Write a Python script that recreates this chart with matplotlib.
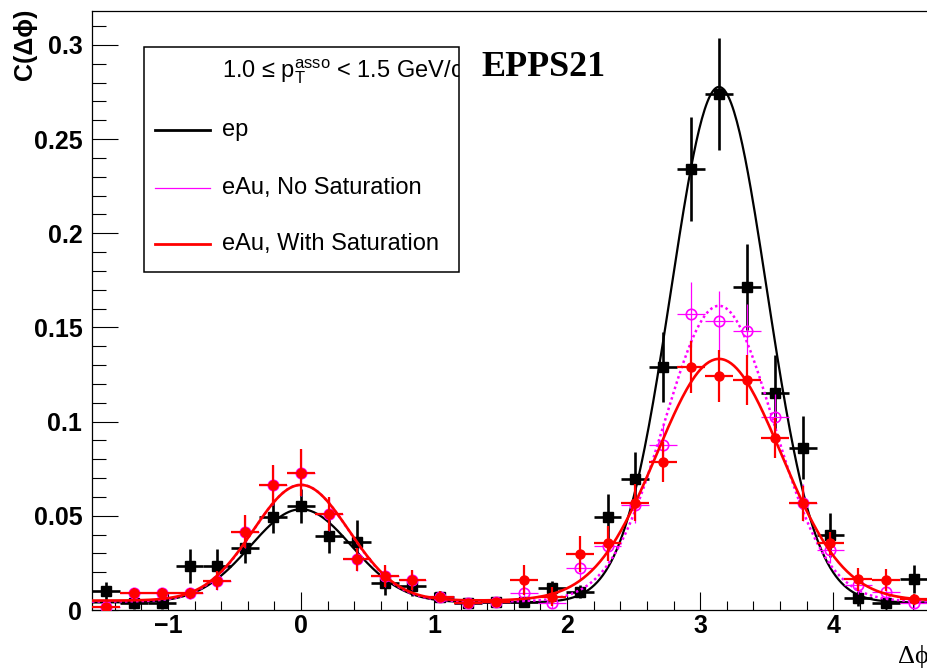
import numpy as np
import matplotlib
matplotlib.use("Agg")
import matplotlib.pyplot as plt
from matplotlib.patches import Rectangle
from matplotlib.lines import Line2D
from matplotlib.ticker import MultipleLocator

plt.rcParams["font.family"] = ["Liberation Sans", "DejaVu Sans"]
plt.rcParams["mathtext.fontset"] = "custom"
plt.rcParams["mathtext.rm"] = "Liberation Sans"
plt.rcParams["mathtext.it"] = "Liberation Sans:italic"

# bin centres (30 bins over -pi/2 .. 3pi/2)
dphi = [-1.4661, -1.2566, -1.0472, -0.8378, -0.6283, -0.4189, -0.2094, 0.0,
        0.2094, 0.4189, 0.6283, 0.8378, 1.0472, 1.2566, 1.4661, 1.6755,
        1.8850, 2.0944, 2.3038, 2.5133, 2.7227, 2.9322, 3.1416, 3.3510,
        3.5605, 3.7699, 3.9794, 4.1888, 4.3982, 4.6077]
bin_half = 0.1047

# ep
ep_val = [0.0100, 0.0035, 0.0035, 0.0234, 0.0234, 0.0327, 0.0492, 0.0552,
          0.0393, 0.0363, 0.0142, 0.0125, 0.0071, 0.0035, 0.0040, 0.0040,
          0.0115, 0.0097, 0.0492, 0.0694, 0.1289, 0.2340, 0.2740, 0.1714,
          0.1154, 0.0862, 0.0398, 0.0062, 0.0035, 0.0163]
ep_err = [0.0050, 0.0030, 0.0030, 0.0090, 0.0090, 0.0075, 0.0085, 0.0090,
          0.0093, 0.0113, 0.0060, 0.0050, 0.0030, 0.0020, 0.0020, 0.0020,
          0.0040, 0.0035, 0.0124, 0.0146, 0.0186, 0.0277, 0.0296, 0.0230,
          0.0199, 0.0168, 0.0115, 0.0040, 0.0030, 0.0075]

# eAu, no saturation
nosat_val = [0.0018, 0.0089, 0.0089, 0.0089, 0.0156, 0.0416, 0.0664, 0.0729,
             0.0510, 0.0269, 0.0180, 0.0159, 0.0071, 0.0035, 0.0040, 0.0089,
             0.0039, 0.0221, 0.0340, 0.0560, 0.0876, 0.1570, 0.1536, 0.1483,
             0.1023, 0.0570, 0.0319, 0.0133, 0.0097, 0.0035]
nosat_err = [0.0020, 0.0030, 0.0030, 0.0030, 0.0050, 0.0089, 0.0106, 0.0124,
             0.0090, 0.0060, 0.0058, 0.0055, 0.0030, 0.0020, 0.0020, 0.0040,
             0.0030, 0.0060, 0.0080, 0.0100, 0.0110, 0.0173, 0.0160, 0.0140,
             0.0124, 0.0100, 0.0070, 0.0050, 0.0040, 0.0030]

# eAu, with saturation
sat_val = [0.0018, 0.0089, 0.0089, 0.0089, 0.0156, 0.0416, 0.0664, 0.0729,
           0.0510, 0.0269, 0.0180, 0.0159, 0.0071, 0.0035, 0.0040, 0.0160,
           0.0071, 0.0297, 0.0354, 0.0570, 0.0785, 0.1289, 0.1243, 0.1221,
           0.0912, 0.0567, 0.0354, 0.0163, 0.0159, 0.0057]
sat_err = [0.0020, 0.0030, 0.0030, 0.0030, 0.0050, 0.0089, 0.0106, 0.0124,
           0.0090, 0.0060, 0.0058, 0.0055, 0.0030, 0.0020, 0.0020, 0.0080,
           0.0049, 0.0097, 0.0093, 0.0097, 0.0106, 0.0137, 0.0137, 0.0133,
           0.0106, 0.0093, 0.0062, 0.0062, 0.0060, 0.0030]

# fit parameters: pedestal, near amp, near sigma, away amp, away sigma
ep_fit = [0.0040, 0.0495, 0.38, 0.2737, 0.36]
nosat_fit = [0.0045, 0.0620, 0.36, 0.1570, 0.41]
sat_fit = [0.0050, 0.0614, 0.36, 0.1283, 0.468]


def fit_curve(x, p):
    """
    两个高斯 + 常数
    """
    b, a1, s1, a2, s2 = p
    return (b + a1 * np.exp(-x ** 2 / (2 * s1 ** 2))
            + a2 * np.exp(-(x - np.pi) ** 2 / (2 * s2 ** 2)))


fig = plt.figure(figsize=(9.28, 6.69), dpi=100)
ax = fig.add_axes([92 / 928, 1 - 610 / 669, 836 / 928, 599 / 669])

xx = np.linspace(-np.pi / 2, 3 * np.pi / 2, 600)

ax.errorbar(dphi, ep_val, yerr=ep_err, xerr=bin_half, fmt="s", color="black",
            ms=7, elinewidth=1.9, capsize=0, zorder=3)
ax.plot(xx, fit_curve(xx, ep_fit), color="black", lw=1.6, zorder=4)

ax.errorbar(dphi, nosat_val, yerr=nosat_err, xerr=bin_half, fmt="o",
            color="#ff00ff", mfc="none", mec="#ff00ff", ms=7.5, mew=1.2,
            elinewidth=0.9, capsize=0, zorder=5)
ax.plot(xx, fit_curve(xx, nosat_fit), color="#ff00ff", lw=1.8, ls=(0, (1, 1.2)),
        zorder=6)

ax.errorbar(dphi, sat_val, yerr=sat_err, xerr=bin_half, fmt="o", color="red",
            ms=6.5, elinewidth=1.6, capsize=0, zorder=7)
ax.plot(xx, fit_curve(xx, sat_fit), color="red", lw=1.9, zorder=8)

ax.set_xlim(-np.pi / 2, 3 * np.pi / 2)
ax.set_ylim(0, 0.318)

ax.xaxis.set_major_locator(MultipleLocator(1))
ax.xaxis.set_minor_locator(MultipleLocator(0.2))
ax.yaxis.set_major_locator(MultipleLocator(0.05))
ax.yaxis.set_minor_locator(MultipleLocator(0.01))
ax.yaxis.set_major_formatter(plt.FuncFormatter(lambda v, p: "0" if v == 0 else f"{v:g}"))

ax.tick_params(axis="y", which="major", direction="in", length=18.5, width=0.8,
               pad=7, labelsize=18)
ax.tick_params(axis="y", which="minor", direction="in", length=10, width=0.8)
ax.tick_params(axis="x", which="major", direction="in", length=13, width=0.8,
               pad=3, labelsize=18)
ax.tick_params(axis="x", which="minor", direction="in", length=6.5, width=0.8)
for lab in ax.get_xticklabels() + ax.get_yticklabels():
    lab.set_fontweight("bold")

ax.spines["right"].set_visible(False)
for s in ["left", "top", "bottom"]:
    ax.spines[s].set_linewidth(0.9)

# 图例（手工绘制）
box = Rectangle((0.0622, 0.564), 0.377, 0.376, transform=ax.transAxes,
                facecolor="white", edgecolor="black", lw=1.1, zorder=10)
ax.add_patch(box)
hdr = ax.text(0.1555, 0.898, "1.0 ≤ p$_\\mathrm{T}^\\mathrm{asso}$ < 1.5 GeV/c",
              transform=ax.transAxes, fontsize=17, va="center", ha="left",
              zorder=11, clip_on=True)
hdr.set_clip_path(box)
entries = [("ep", "black", 2.0, 0.801),
           ("eAu, No Saturation", "#ff00ff", 0.9, 0.7045),
           ("eAu, With Saturation", "red", 2.0, 0.611)]
for label, col, lw, yy in entries:
    ax.add_line(Line2D([0.0754, 0.141], [yy, yy], color=col, lw=lw,
                       transform=ax.transAxes, zorder=11))
    ax.text(0.1555, yy, label, transform=ax.transAxes, fontsize=17,
            va="center", ha="left", zorder=11)

ax.text(0.466, 0.905, "EPPS21", transform=ax.transAxes, fontsize=26,
        fontweight="bold", family="Liberation Serif", va="center", ha="left")

fig.text(25 / 928, 1 - 9 / 669, "C(Δϕ)", rotation=90, ha="center", va="top",
         fontsize=18, fontweight="bold")
fig.text(913 / 928, 1 - 657 / 669, "Δϕ", ha="center", va="center", fontsize=19,
         family=["Liberation Serif", "DejaVu Serif"])

fig.savefig("out.png", dpi=100)
